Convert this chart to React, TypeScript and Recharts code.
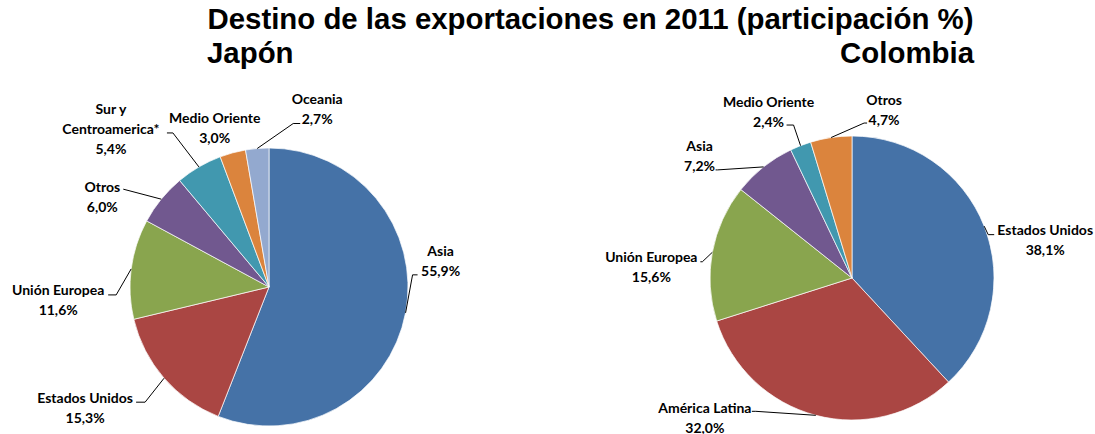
import { PieChart, Pie, Cell } from "recharts";

const JAPAN_NAMES = ["Asia", "Estados Unidos", "Unión Europea", "Otros", "Sur y\nCentroamerica*", "Medio Oriente", "Oceania"];
const JAPAN_VALUES = [55.9, 15.3, 11.6, 6.0, 5.4, 3.0, 2.7];
const JAPAN_COLORS = ["#4572A7", "#AA4643", "#89A54E", "#71588F", "#4198AF", "#DB843D", "#93A9CF"];

const COLOMBIA_NAMES = ["Estados Unidos", "América Latina", "Unión Europea", "Asia", "Medio Oriente", "Otros"];
const COLOMBIA_VALUES = [38.1, 32.0, 15.6, 7.2, 2.4, 4.7];
const COLOMBIA_COLORS = ["#4572A7", "#AA4643", "#89A54E", "#71588F", "#4198AF", "#DB843D"];

// label placement relative to the slice's outer edge point (layout only)
type LabelPos = { dx: number; dy: number; leader: number[][] | null };
const JAPAN_LABELS: LabelPos[] = [
  { dx: 35, dy: -62, leader: [[7, -38], [12, -38]] },
  { dx: -79, dy: 19, leader: [[-19, 24], [-28, 24]] },
  { dx: -73, dy: 21, leader: [[-15, 26], [-23, 26]] },
  { dx: -59, dy: -13, leader: [[-38, -10]] },
  { dx: -88, dy: -58, leader: [[-26, -34], [-32, -34]] },
  { dx: -18, dy: -35, leader: null },
  { dx: 60, dy: -50, leader: [[36, -25], [43, -25]] },
];
const COLOMBIA_LABELS: LabelPos[] = [
  { dx: 61, dy: 3.5, leader: [[4, 8.5], [10, 8.5]] },
  { dx: -111, dy: -8, leader: [[-60, -4], [-64, -4]] },
  { dx: -61, dy: 4.5, leader: [[-10, 9.5], [-12, 9.5]] },
  { dx: -64, dy: -21, leader: [[-46, 3], [-48, 3]] },
  { dx: -32, dy: -44.6, leader: [[-7, -20.6], [-14, -20.6]] },
  { dx: 53, dy: -38.5, leader: [[33, -14.5], [36, -14.5]] },
];

const RADIAN = Math.PI / 180;
const fmt = (v: number) => v.toFixed(1).replace(".", ",") + "%";

function makeLabel(names: string[], values: number[], layout: LabelPos[]) {
  return (props: any) => {
    const { cx, cy, midAngle, outerRadius, index } = props;
    const ex = cx + outerRadius * Math.cos(-midAngle * RADIAN);
    const ey = cy + outerRadius * Math.sin(-midAngle * RADIAN);
    const pos = layout[index];
    const lines = [...names[index].split("\n"), fmt(values[index])];
    const pts = pos.leader ? [[0, 0], ...pos.leader].map(([x, y]) => `${ex + x},${ey + y}`).join(" ") : null;
    return (
      <g key={`lbl-${index}`}>
        {pts && <polyline points={pts} fill="none" stroke="#000" strokeWidth={1} />}
        {lines.map((t, i) => (
          <text
            key={i}
            x={ex + pos.dx}
            y={ey + pos.dy + i * 20}
            textAnchor="middle"
            dominantBaseline="central"
            fontFamily="Lato, sans-serif"
            fontWeight={700}
            fontSize={14}
            fill="#000"
          >
            {t}
          </text>
        ))}
      </g>
    );
  };
}

const japanData = JAPAN_NAMES.map((name, i) => ({ name, value: JAPAN_VALUES[i] }));
const colombiaData = COLOMBIA_NAMES.map((name, i) => ({ name, value: COLOMBIA_VALUES[i] }));

export default function App() {
  return (
    <div style={{ position: "absolute", left: 0, top: 0, width: 1095, height: 434, background: "#fff", overflow: "hidden" }}>
      <div
        style={{
          position: "absolute",
          left: 207,
          top: 2,
          width: 767,
          fontFamily: "'Liberation Sans', Arial, sans-serif",
          fontWeight: 700,
          fontSize: 29.4,
          lineHeight: "34px",
          color: "#000",
          whiteSpace: "nowrap",
        }}
      >
        <div style={{ textAlign: "center" }}>Destino de las exportaciones en 2011 (participación %)</div>
        <div style={{ display: "flex", justifyContent: "space-between" }}>
          <span>Japón</span>
          <span>Colombia</span>
        </div>
      </div>
      <div style={{ position: "absolute", left: 0, top: 0 }}>
        <PieChart width={1095} height={434} margin={{ top: 0, right: 0, bottom: 0, left: 0 }}>
          <Pie
            data={japanData}
            dataKey="value"
            cx={269}
            cy={287}
            outerRadius={139}
            startAngle={90}
            endAngle={-270}
            stroke="#fff"
            strokeWidth={0.7}
            labelLine={false}
            label={makeLabel(JAPAN_NAMES, JAPAN_VALUES, JAPAN_LABELS)}
            isAnimationActive={false}
          >
            {japanData.map((_, i) => (
              <Cell key={i} fill={JAPAN_COLORS[i]} />
            ))}
          </Pie>
          <Pie
            data={colombiaData}
            dataKey="value"
            cx={852}
            cy={278}
            outerRadius={142}
            startAngle={90}
            endAngle={-270}
            stroke="#fff"
            strokeWidth={0.7}
            labelLine={false}
            label={makeLabel(COLOMBIA_NAMES, COLOMBIA_VALUES, COLOMBIA_LABELS)}
            isAnimationActive={false}
          >
            {colombiaData.map((_, i) => (
              <Cell key={i} fill={COLOMBIA_COLORS[i]} />
            ))}
          </Pie>
        </PieChart>
      </div>
    </div>
  );
}
